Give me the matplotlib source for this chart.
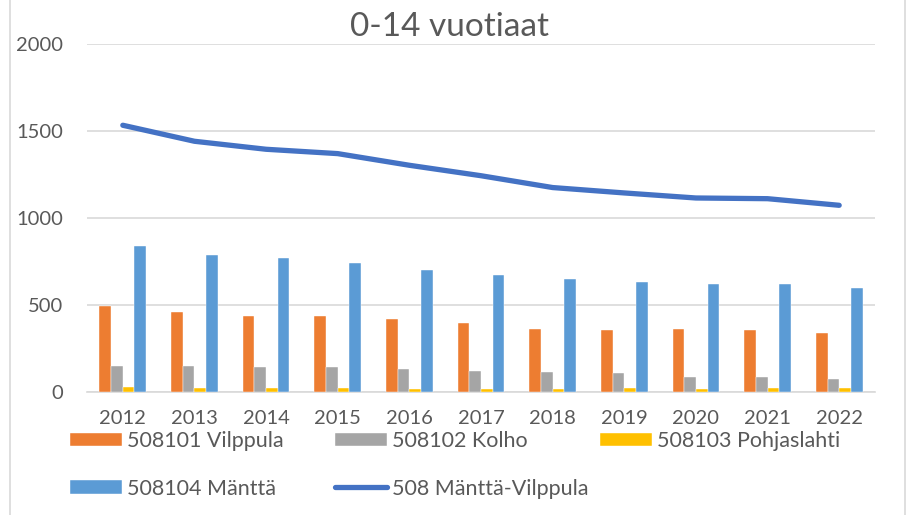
import matplotlib
matplotlib.use("Agg")
import matplotlib.pyplot as plt
import numpy as np
from matplotlib.patches import Rectangle

# ── data ─────────────────────────────────────────────────────────────────────
years = ["2012", "2013", "2014", "2015", "2016", "2017",
         "2018", "2019", "2020", "2021", "2022"]
vilppula    = [494, 460, 437, 439, 422, 397, 364, 357, 360, 358, 341]
kolho       = [151, 148, 144, 144, 132, 123, 115, 107, 88, 86, 77]
pohjaslahti = [27, 21, 21, 21, 16, 20, 20, 21, 20, 25, 25]
mantta      = [840, 788, 772, 740, 703, 675, 652, 634, 623, 620, 596]
total       = [1533, 1441, 1395, 1370, 1303, 1243, 1175, 1144, 1115, 1111, 1073]

bar_series = [
    ("508101 Vilppula", vilppula, "#ED7D31"),
    ("508102 Kolho", kolho, "#A5A5A5"),
    ("508103 Pohjaslahti", pohjaslahti, "#FFC000"),
    ("508104 Mänttä", mantta, "#5B9BD5"),
]

plt.rcParams["font.family"] = ["Lato", "DejaVu Sans"]
text_col = "#595959"

fig = plt.figure(figsize=(9.14, 5.15), dpi=100)
ax = fig.add_axes([87 / 914, 1 - 392 / 515, 788 / 914, 348 / 515])

x = np.arange(len(years))
w = 0.163
bars = []
for i, (label, vals, col) in enumerate(bar_series):
    h = ax.bar(x + (i - 1.5) * w, vals, width=w, color=col,
               edgecolor="white", linewidth=0.3, label=label, zorder=3)
    bars.append(h)
line, = ax.plot(x, total, color="#4472C4", linewidth=3.8,
                solid_capstyle="round", label="508 Mänttä-Vilppula", zorder=4)

ax.set_xlim(-0.5, len(years) - 0.5)
ax.set_ylim(0, 2000)
ax.set_yticks([0, 500, 1000, 1500, 2000])
ax.set_xticks(x)
ax.set_xticklabels(years)
ax.tick_params(axis="both", length=0, labelsize=14.5, colors=text_col)
ax.tick_params(axis="y", pad=17)
ax.tick_params(axis="x", pad=13)
ax.grid(axis="y", color="#D9D9D9", linewidth=1.2, zorder=0)
for s in ("top", "right", "left"):
    ax.spines[s].set_visible(False)
ax.spines["bottom"].set_color("#D9D9D9")
ax.spines["bottom"].set_linewidth(1.2)

fig.text(449 / 914, 1 - 27 / 515, "0-14 vuotiaat", ha="center", va="center",
         fontsize=24, color=text_col)

# legend laid out row-wise in three fixed columns, like the Excel original
columns = [
    (70, [bars[0], bars[3]]),
    (335, [bars[1], line]),
    (600, [bars[2]]),
]
for xpos, hs in columns:
    fig.legend(hs, [h.get_label() for h in hs],
               loc="upper left", bbox_to_anchor=(xpos / 914, 1 - 431 / 515),
               ncol=1, frameon=False, fontsize=15.5, labelcolor=text_col,
               handlelength=2.4, handleheight=0.56, handletextpad=0.25,
               labelspacing=1.28, borderpad=0, borderaxespad=0)

# light chart-area border
fig.patches.append(Rectangle((10 / 914, -0.01), 895 / 914, 1.02,
                             transform=fig.transFigure, fill=False,
                             edgecolor="#D9D9D9", linewidth=1.2))

fig.savefig("out.png", dpi=100)
